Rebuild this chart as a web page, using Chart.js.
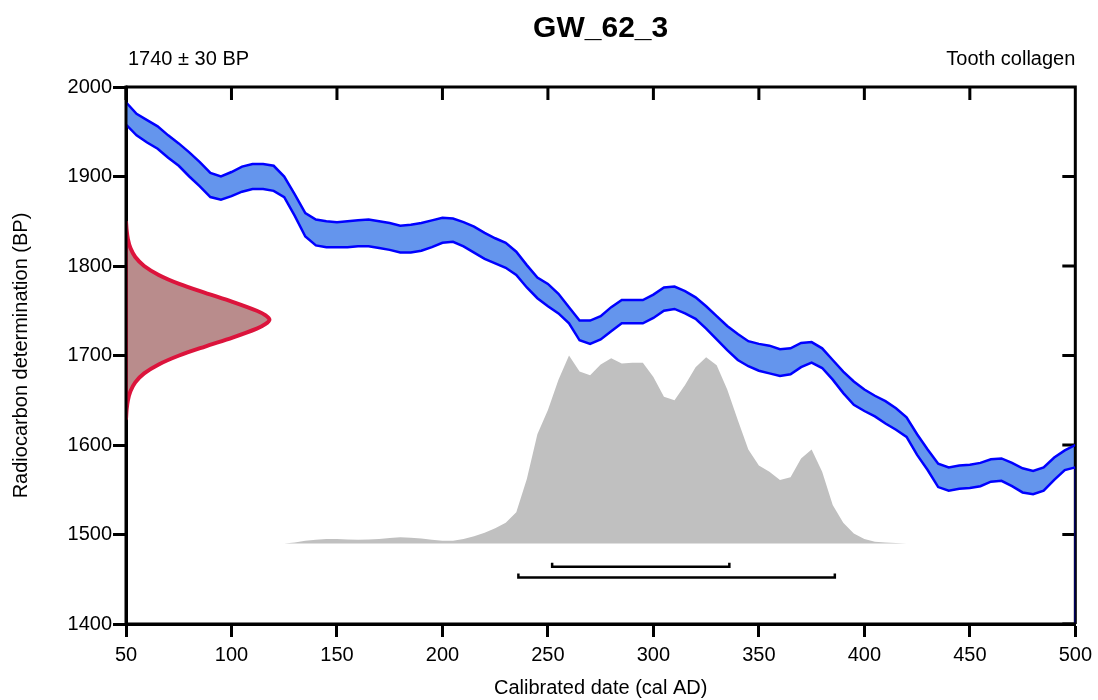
<!DOCTYPE html>
<html>
<head>
<meta charset="utf-8">
<title>GW_62_3</title>
<script src="https://cdn.jsdelivr.net/npm/chart.js@4.4.0/dist/chart.umd.min.js"></script>
<style>
  html, body { margin: 0; padding: 0; background: #fff; }
  #wrap { width: 1098px; height: 700px; }
</style>
</head>
<body>
<div id="wrap"><canvas id="myChart" width="1098" height="700"></canvas></div>
<script>
// calibration curve band (cal AD -> BP, upper and lower edge)
const calYears = [50,55,60,65,70,75,80,85,90,95,100,105,110,115,120,125,130,135,140,145,
  150,155,160,165,170,175,180,185,190,195,200,205,210,215,220,225,230,235,240,245,
  250,255,260,265,270,275,280,285,290,295,300,305,310,315,320,325,330,335,340,345,
  350,355,360,365,370,375,380,385,390,395,400,405,410,415,420,425,430,435,440,445,
  450,455,460,465,470,475,480,485,490,495,500];
const calUpper = [1983,1970,1963,1956,1946,1937,1927,1916,1904,1900,1905,1911,1914,1914,1912,1900,1880,1859,1852,1850,
  1849,1850,1851,1852,1850,1848,1845,1846,1848,1851,1854,1853,1849,1844,1837,1831,1826,1816,1801,1787,
  1780,1769,1754,1739,1739,1744,1754,1762,1762,1762,1768,1776,1777,1772,1765,1755,1744,1733,1724,1716,
  1713,1711,1707,1708,1714,1715,1708,1695,1682,1671,1662,1655,1649,1641,1631,1612,1595,1579,1575,1577,
  1578,1580,1584,1585,1580,1574,1571,1575,1586,1594,1600];
const calLower = [1958,1946,1938,1931,1921,1912,1900,1889,1877,1874,1878,1883,1886,1886,1884,1877,1856,1833,1823,1821,
  1821,1821,1822,1822,1820,1818,1815,1815,1817,1821,1826,1827,1822,1815,1808,1803,1798,1790,1776,1764,
  1755,1747,1736,1717,1713,1718,1727,1736,1736,1736,1742,1750,1752,1747,1741,1730,1718,1706,1695,1688,
  1683,1680,1677,1679,1687,1692,1686,1673,1658,1645,1638,1632,1624,1617,1609,1589,1572,1553,1549,1551,
  1552,1554,1559,1560,1554,1547,1545,1549,1561,1572,1575];

// radiocarbon measurement
const labAge = 1740;
const labError = 30;
const gaussBP = [1850,1840,1830,1820,1810,1800,1790,1780,1770,1760,1750,1745,1740,1735,1730,1720,1710,1700,1690,1680,1670,1660,1650,1640,1630];
const gaussX  = [50.0,50.3,50.9,52.1,54.4,58.6,65.5,75.2,87.5,100.5,112,116,118,116,112,100.5,87.5,75.2,65.5,58.6,54.4,52.1,50.9,50.3,50.0];

// calibrated date distribution (top edge of grey area on BP axis)
const probYears = [125,130,135,140,145,150,155,160,165,170,175,180,185,190,195,200,205,210,215,220,
  225,230,235,240,245,250,255,260,265,270,275,280,285,290,295,300,305,310,315,320,
  325,330,335,340,345,350,355,360,365,370,375,380,385,390,395,400,405,410,415,420];
const probTop = [1490,1491,1493,1494,1495,1495,1494.5,1494,1494.5,1495,1496,1497,1496.5,1495.5,1494,1493,1493,1495,1498,1502,
  1507,1513,1525,1562,1612,1639,1673,1700,1682,1678,1690,1697,1691,1692,1692,1676,1654,1650,1667,1687,
  1698,1689,1662,1628,1595,1577,1570,1561,1564,1585,1595,1570,1533,1513,1501,1495,1492,1491,1490.5,1490];

// highest posterior density ranges (68.3% and 95.4%)
const rangeFrom = [252, 236];
const rangeTo = [336, 386];

const xTicks = [50,100,150,200,250,300,350,400,450,500];
const yTicks = [1400,1500,1600,1700,1800,1900,2000];

const probBase = 1490;
const rangeLevel = [1464, 1452];

Chart.defaults.font.family = '"Liberation Sans", Arial, sans-serif';
Chart.defaults.font.size = 20;
Chart.defaults.color = '#000';

function bracket(i) {
  return [
    {x: rangeFrom[i], y: rangeLevel[i] + 4.5},
    {x: rangeFrom[i], y: rangeLevel[i]},
    {x: rangeTo[i], y: rangeLevel[i]},
    {x: rangeTo[i], y: rangeLevel[i] + 4.5}
  ];
}

const gaussPts = gaussBP.map((b, i) => ({x: gaussX[i], y: b}));
gaussPts.push({x: gaussX[0], y: gaussBP[0]});

const framePlugin = {
  id: 'frame',
  beforeDatasetsDraw(chart) {
    const {ctx, chartArea: a, scales: {x, y}} = chart;
    ctx.save();
    ctx.strokeStyle = '#000';
    ctx.lineWidth = 3;
    ctx.beginPath();
    ctx.moveTo(a.left, a.top);
    ctx.lineTo(a.right, a.top);
    ctx.lineTo(a.right, a.bottom);
    xTicks.forEach(v => {
      const px = x.getPixelForValue(v);
      ctx.moveTo(px, a.top);
      ctx.lineTo(px, a.top + 13);
    });
    yTicks.forEach(v => {
      const py = y.getPixelForValue(v);
      ctx.moveTo(a.right, py);
      ctx.lineTo(a.right - 13, py);
    });
    ctx.stroke();
    ctx.restore();
  },
  afterDatasetsDraw(chart) {
    const {ctx, chartArea: a} = chart;
    ctx.save();
    ctx.strokeStyle = '#000';
    ctx.lineWidth = 3;
    ctx.beginPath();
    ctx.moveTo(a.left, a.top - 1.5);
    ctx.lineTo(a.left, a.bottom);
    ctx.lineTo(a.right, a.bottom);
    ctx.stroke();
    ctx.restore();
  },
  afterDraw(chart) {
    const {ctx, chartArea: a} = chart;
    ctx.save();
    ctx.fillStyle = '#000';
    ctx.textBaseline = 'alphabetic';
    ctx.font = 'bold 30px "Liberation Sans", Arial, sans-serif';
    ctx.textAlign = 'center';
    ctx.fillText('GW_62_3', (a.left + a.right) / 2, 37);
    ctx.font = '20px "Liberation Sans", Arial, sans-serif';
    ctx.textAlign = 'left';
    ctx.fillText(labAge + ' \u00b1 ' + labError + ' BP', a.left + 2, 65);
    ctx.textAlign = 'right';
    ctx.fillText('Tooth collagen', a.right, 65);
    ctx.restore();
  }
};

const ctx = document.getElementById('myChart').getContext('2d');
const myChart = new Chart(ctx, {
  type: 'scatter',
  data: {
    datasets: [{
      label: 'upper',
      data: calYears.map((v, i) => ({x: v, y: calUpper[i]})),
      showLine: true,
      borderColor: '#0000ff',
      borderWidth: 2.5,
      backgroundColor: '#6495ed',
      fill: '+1',
      pointRadius: 0
    }, {
      label: 'lower',
      data: calYears.map((v, i) => ({x: v, y: calLower[i]})),
      showLine: true,
      borderColor: '#0000ff',
      borderWidth: 2.5,
      fill: false,
      pointRadius: 0
    }, {
      label: 'measurement',
      data: gaussPts,
      showLine: true,
      borderColor: '#dc143c',
      borderWidth: 4,
      backgroundColor: '#b98c8c',
      fill: 'shape',
      tension: 0.3,
      pointRadius: 0
    }, {
      label: 'calibrated',
      data: probYears.map((v, i) => ({x: v, y: probTop[i]})),
      showLine: true,
      borderWidth: 0,
      borderColor: 'rgba(0,0,0,0)',
      backgroundColor: '#c0c0c0',
      fill: {value: probBase},
      pointRadius: 0
    }, {
      label: '68.3%',
      data: bracket(0),
      showLine: true,
      borderColor: '#000',
      borderWidth: 2.5,
      fill: false,
      pointRadius: 0
    }, {
      label: '95.4%',
      data: bracket(1),
      showLine: true,
      borderColor: '#000',
      borderWidth: 2.5,
      fill: false,
      pointRadius: 0
    }, {
      label: 'edge',
      data: [{x: calYears[calYears.length - 1], y: calLower[calLower.length - 1]}, {x: 500, y: 1400}],
      showLine: true,
      borderColor: '#00008b',
      borderWidth: 2,
      fill: false,
      pointRadius: 0
    }]
  },
  options: {
    responsive: false,
    animation: false,
    layout: { padding: {top: 87, right: 22, left: 0, bottom: 0} },
    plugins: {
      legend: { display: false },
      tooltip: { enabled: false },
      title: { display: false },
      filler: { drawTime: 'beforeDatasetsDraw' }
    },
    scales: {
      x: {
        type: 'linear',
        min: 50,
        max: 500,
        afterFit(s) { s.height = 76; },
        ticks: { stepSize: 50, padding: 6, maxRotation: 0, autoSkip: false, color: '#000',
          callback: v => String(v) },
        grid: { drawOnChartArea: false, drawTicks: true, tickLength: 13, tickWidth: 3, tickColor: '#000' },
        border: { display: true, width: 3, color: '#000' },
        title: { display: true, text: 'Calibrated date (cal AD)', padding: {top: 0, bottom: 0}, color: '#000' }
      },
      y: {
        type: 'linear',
        min: 1400,
        max: 2000,
        afterFit(s) { s.width = 126; },
        ticks: { stepSize: 100, padding: 1, color: '#000', callback: v => String(v) },
        grid: { drawOnChartArea: false, drawTicks: true, tickLength: 13, tickWidth: 3, tickColor: '#000' },
        border: { display: true, width: 3, color: '#000' },
        title: { display: true, text: 'Radiocarbon determination (BP)', padding: {top: 9, bottom: 0}, color: '#000' }
      }
    }
  },
  plugins: [framePlugin]
});
</script>
</body>
</html>
